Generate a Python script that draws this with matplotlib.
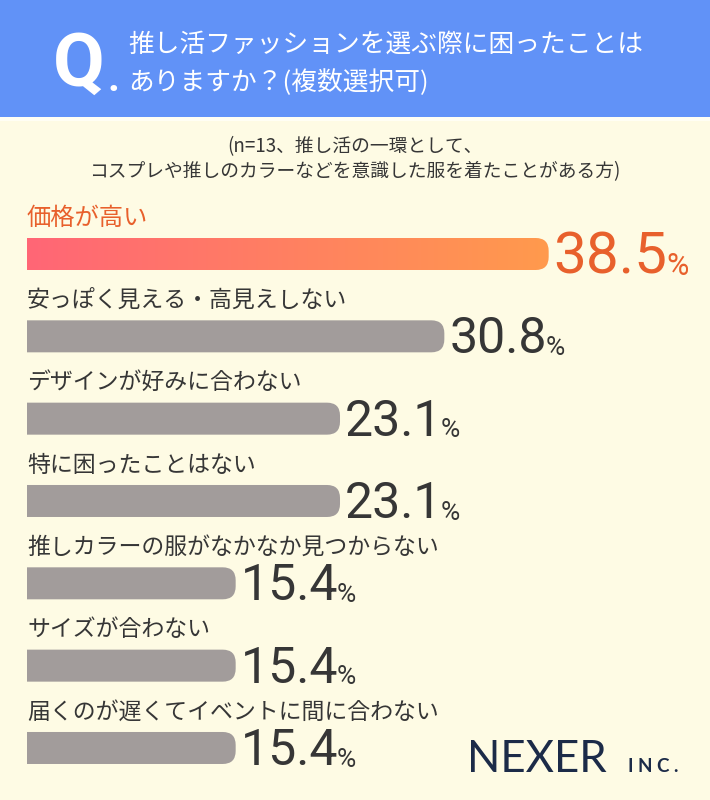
import numpy as np
import matplotlib.pyplot as plt
from matplotlib.patches import Rectangle, PathPatch
from matplotlib.path import Path
from matplotlib.colors import LinearSegmentedColormap

plt.rcParams['font.family'] = ['Noto Sans CJK JP', 'DejaVu Sans']

# data
labels = ['価格が高い', '安っぽく見える・高見えしない', 'デザインが好みに合わない',
          '特に困ったことはない', '推しカラーの服がなかなか見つからない',
          'サイズが合わない', '届くのが遅くてイベントに間に合わない']
values = [38.5, 30.8, 23.1, 23.1, 15.4, 15.4, 15.4]
title_lines = ['推し活ファッションを選ぶ際に困ったことは', 'ありますか？(複数選択可)']
note_lines = ['(n=13、推し活の一環として、', 'コスプレや推しのカラーなどを意識した服を着たことがある方)']

NUMFONT = 'Roboto'
BG = '#FEFBE4'
HEADER = '#6192F7'
GRAY = '#A29C9B'
DARK = '#363636'
ORANGE = '#E8602C'

W, H = 710, 800
fig = plt.figure(figsize=(W / 100, H / 100), dpi=100)
fig.patch.set_facecolor(BG)


def fx(x):
    return x / W


def fy(y):
    return 1 - y / H


# header band
fig.add_artist(Rectangle((0, fy(117)), 1, 117 / H, transform=fig.transFigure,
                         facecolor=HEADER, edgecolor='none'))
fig.add_artist(Rectangle((0, fy(121)), 1, 4 / H, transform=fig.transFigure,
                         facecolor='#FFFEF4', edgecolor='none'))
fig.text(fx(53), fy(86), 'Q', color='white', fontsize=54, fontweight='bold',
         family=NUMFONT, va='baseline', ha='left')
fig.text(fx(107), fy(91), '.', color='white', fontsize=30, fontweight='bold',
         family=NUMFONT, va='baseline', ha='left')
fig.text(fx(128), fy(45), title_lines[0], color='white', fontsize=18.5, va='center')
fig.text(fx(128), fy(83), title_lines[1], color='white', fontsize=18.5, va='center')

# note
fig.text(fx(355), fy(147), note_lines[0], color=DARK, fontsize=13.5, ha='center', va='center')
fig.text(fx(355), fy(172), note_lines[1], color=DARK, fontsize=13.5, ha='center', va='center')

# bar axes
k = 13.55          # px per percent
row = 82.33        # px per row
ax = fig.add_axes([0, 0, 1, fy(200)])
ax.axis('off')

bh = 32 / row
rx, ry = 13 / k, 13 / row


def rounded_bar(x1, yc):
    y0, y1 = yc - bh / 2, yc + bh / 2
    verts = [(0, y0), (x1 - rx, y0), (x1, y0), (x1, y0 + ry), (x1, y1 - ry),
             (x1, y1), (x1 - rx, y1), (0, y1), (0, y0)]
    codes = [Path.MOVETO, Path.LINETO, Path.CURVE3, Path.CURVE3, Path.LINETO,
             Path.CURVE3, Path.CURVE3, Path.LINETO, Path.CLOSEPOLY]
    return Path(verts, codes)


grad = LinearSegmentedColormap.from_list('g', ['#FF6676', '#FF9A4D'])

for i, (lab, v) in enumerate(zip(labels, values)):
    first = i == 0
    col = ORANGE if first else DARK
    if first:
        p = PathPatch(rounded_bar(v, i), facecolor='none', edgecolor='none')
        ax.add_patch(p)
        im = ax.imshow(np.linspace(0, 1, 256).reshape(1, -1), cmap=grad, aspect='auto',
                       extent=[0, v, i + bh / 2, i - bh / 2], zorder=2)
        im.set_clip_path(p)
    else:
        ax.add_patch(PathPatch(rounded_bar(v, i), facecolor=GRAY, edgecolor='none'))

    ax.text(0, i - 36 / row, lab, color=col,
            fontsize=17.5 if first else 16.5, va='center', ha='left')
    num = ax.text(v + 5 / k, i + (19 if first else 17) / row, f'{v:.1f}',
                  color=col, fontsize=42 if first else 36,
                  family=NUMFONT, va='baseline', ha='left')
    ax.annotate('%', xy=(1, 0), xycoords=num, xytext=(-1, 3 if first else 2.5),
                textcoords='offset points', color=col,
                fontsize=22 if first else 19, family=NUMFONT, va='bottom', ha='left')

ax.set_xlim(-27 / k, (W - 27) / k)
ax.set_ylim((800 - 254) / row, (200 - 254) / row)

# logo
fig.text(fx(467), fy(772), 'NEXER', color='#1C2B48', fontsize=31.5, family='Lato',
         va='baseline', ha='left')
fig.text(fx(628), fy(772), 'I N C .', color='#1C2B48', fontsize=13.5, family='Lato',
         fontweight='bold', va='baseline', ha='left')

fig.savefig('out.png', dpi=100, facecolor=BG)
